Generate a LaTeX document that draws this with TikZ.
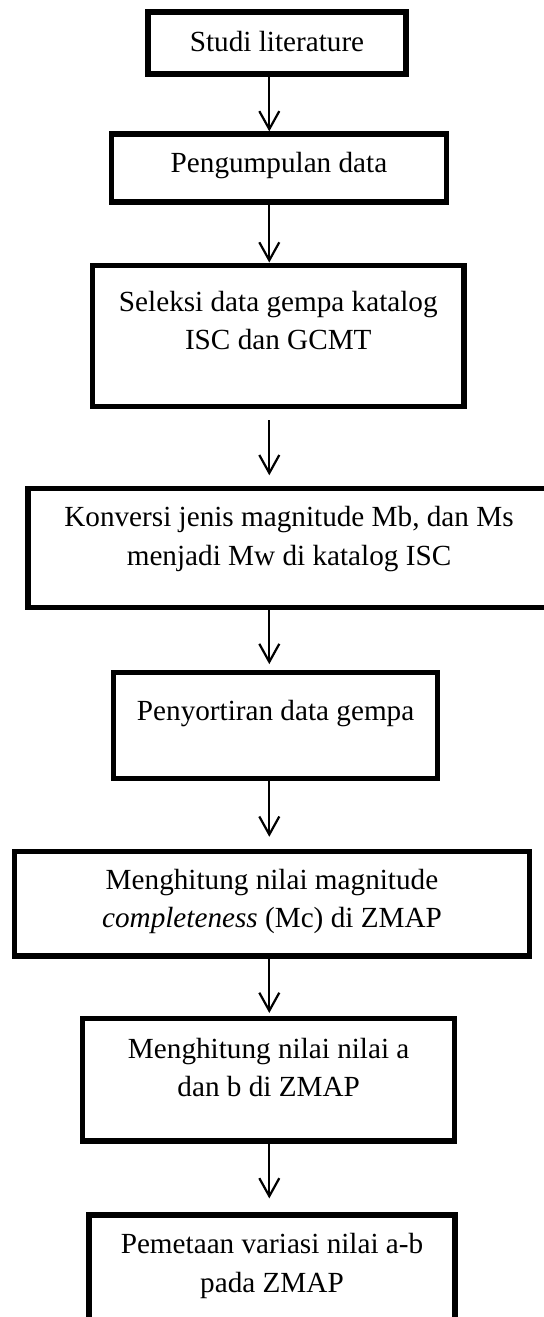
\documentclass[tikz,border=0pt]{standalone}
\usepackage{fontspec}
\setmainfont{Liberation Serif}
\usetikzlibrary{shapes, arrows.meta, positioning}

\begin{document}
\begin{tikzpicture}[
        stepbox/.style={rectangle, draw, line width=2.6pt},
        steptext/.style={align=center, inner sep=0pt, font=\fontsize{14.6pt}{19.4pt}\selectfont},
        flow/.style={-{Straight Barb[length=9pt, width=10pt]}, line width=1.1pt}]
        \useasboundingbox (0,0) rectangle (271.5pt,-658.5pt);

        % Steps
        \node[stepbox, minimum width=129pt, minimum height=31pt] (studi) at (138.5pt,-21.5pt) {};
        \node[stepbox, minimum width=167.5pt, minimum height=34pt, below of=studi, node distance=62.5pt, xshift=1pt] (kumpul) {};
        \node[stepbox, minimum width=185.75pt, minimum height=70.85pt, below of=kumpul, node distance=84pt, xshift=-0.35pt] (seleksi) {};
        \node[stepbox, minimum width=261pt, minimum height=59.15pt, below of=seleksi, node distance=106pt, xshift=5.35pt] (konversi) {};
        \node[stepbox, minimum width=162pt, minimum height=53pt, below of=konversi, node distance=88.85pt, xshift=-6.7pt] (sortir) {};
        \node[stepbox, minimum width=257.2pt, minimum height=52.35pt, below of=sortir, node distance=89pt, xshift=-1.8pt] (mc) {};
        \node[stepbox, minimum width=186pt, minimum height=61.35pt, below of=mc, node distance=88pt, xshift=-1.65pt] (nilaiab) {};
        \node[stepbox, minimum width=183pt, minimum height=61pt, below of=nilaiab, node distance=98.15pt, xshift=1.65pt] (peta) {};

        % Texts
        \node[steptext, below=10.8pt of studi.north] (studiText) {Studi literature};
        \node[steptext, below=10.15pt of kumpul.north] (kumpulText) {Pengumpulan data};
        \node[steptext, below=13.95pt of seleksi.north] (seleksiText) {Seleksi data gempa katalog\\ISC dan GCMT};
        \node[steptext, below=9.95pt of konversi.north] (konversiText) {Konversi jenis magnitude Mb, dan Ms\\menjadi Mw di katalog ISC};
        \node[steptext, below=14.95pt of sortir.north] (sortirText) {Penyortiran data gempa};
        \node[steptext, below=9.8pt of mc.north] (mcText) {Menghitung nilai magnitude\\\textit{completeness} (Mc) di ZMAP};
        \node[steptext, below=10.8pt of nilaiab.north] (nilaiabText) {Menghitung nilai nilai a\\dan b di ZMAP};
        \node[steptext, below=10.15pt of peta.north] (petaText) {Pemetaan variasi nilai a-b\\pada ZMAP};

        % Connections
        \coordinate (axis) at (134.65pt,0);
        \draw[flow] (studi.south -| axis) -- (kumpul.north -| axis);
        \draw[flow] (kumpul.south -| axis) -- (seleksi.north -| axis);
        \draw[flow, shorten <=5.5pt, shorten >=5.5pt] (seleksi.south -| axis) -- (konversi.north -| axis);
        \draw[flow, shorten >=3pt] (konversi.south -| axis) -- (sortir.north -| axis);
        \draw[flow, shorten >=6pt] (sortir.south -| axis) -- (mc.north -| axis);
        \draw[flow, shorten >=1.4pt] (mc.south -| axis) -- (nilaiab.north -| axis);
        \draw[flow, shorten >=7pt] (nilaiab.south -| axis) -- (peta.north -| axis);
    \end{tikzpicture}
\end{document}
